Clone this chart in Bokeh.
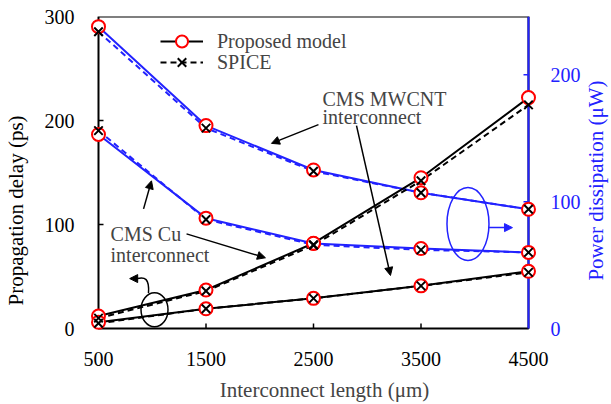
import math
from bokeh.plotting import figure
from bokeh.models import (Range1d, LinearAxis, FixedTicker, Legend, LegendItem,
                          Arrow, NormalHead, Label, BoxAnnotation)
from bokeh.embed import file_html
from bokeh.resources import INLINE

# ---------------- data ----------------
length = [500, 1500, 2500, 3500, 4500]
x_ticks = [500, 1500, 2500, 3500, 4500]
delay_ticks = [0, 100, 200, 300]
power_ticks = [0, 100, 200]

delay_a_model = [12, 37, 82, 145, 222]
delay_a_spice = [10, 36, 80, 142, 215]
delay_b_model = [6, 19, 29, 41, 55]
delay_b_spice = [5, 19, 29, 41, 54]

power_a_model = [238, 160, 125, 107, 94]
power_a_spice = [234, 158, 124, 107, 94]
power_b_model = [153, 87, 67, 63, 60]
power_b_spice = [156, 86, 66, 62, 60]

# ---------------- styles ----------------
BLUE = "#2222ff"
FONT = "Liberation Serif"
TICK_FS = "20px"
LABEL_FS = "21px"
X_PER_PX = 9.3023        # x units per screen pixel
Y_PER_PX = 0.9615        # delay units per screen pixel
P_PER_PX = 0.78846       # power units per screen pixel
X_LEFT_PAD = 8 * X_PER_PX     # room so edge markers are not clipped
X_RIGHT_PAD = 83 * X_PER_PX   # frame runs to the right edge (holds the right title)
BOTTOM_PAD_PX = 76            # frame runs to the bottom edge (holds the x title)
TICK_LEN = 5

p = figure(width=611, height=404, output_backend="svg", toolbar_location=None,
           x_range=Range1d(500 - X_LEFT_PAD, 4500 + X_RIGHT_PAD),
           y_range=Range1d(-BOTTOM_PAD_PX * Y_PER_PX, 300),
           x_axis_location=None, y_axis_location=None,
           min_border_left=90, min_border_right=0, min_border_top=16,
           min_border_bottom=0)
p.extra_y_ranges = {"power": Range1d(-BOTTOM_PAD_PX * P_PER_PX, 246)}
p.outline_line_color = None
p.xgrid.visible = False
p.ygrid.visible = False
p.background_fill_color = "white"
p.border_fill_color = "white"


def style_axis(ax, color="black"):
    ax.axis_line_color = None
    ax.major_tick_line_color = None
    ax.minor_tick_line_color = None
    ax.major_label_text_font = FONT
    ax.major_label_text_font_size = TICK_FS
    ax.major_label_text_color = color
    ax.axis_label_text_font = FONT
    ax.axis_label_text_font_size = LABEL_FS
    ax.axis_label_text_font_style = "normal"
    ax.axis_label_text_color = color


ax_b = LinearAxis(ticker=FixedTicker(ticks=x_ticks))
style_axis(ax_b)
ax_b.major_label_standoff = -59
p.add_layout(ax_b, "below")

ax_l = LinearAxis(ticker=FixedTicker(ticks=delay_ticks),
                  axis_label="Propagation delay (ps)")
style_axis(ax_l)
ax_l.major_label_standoff = 10
ax_l.axis_label_standoff = 14
p.add_layout(ax_l, "left")

ax_r = LinearAxis(ticker=FixedTicker(ticks=power_ticks), y_range_name="power")
style_axis(ax_r, BLUE)
ax_r.major_label_standoff = -67
p.add_layout(ax_r, "right")

# axis titles placed as labels inside the (extended) frame
p.add_layout(Label(x=500 + 226 * X_PER_PX, y=-61 * Y_PER_PX,
                   text="Interconnect length (μm)", text_font=FONT,
                   text_font_size=LABEL_FS, text_align="center",
                   text_baseline="alphabetic"))
p.add_layout(Label(x=4500 + 67 * X_PER_PX, y=148 * Y_PER_PX,
                   text="Power dissipation (μW)", text_font=FONT,
                   text_font_size=LABEL_FS, text_color=BLUE, angle=math.pi / 2,
                   text_align="center", text_baseline="middle"))

# plot box (axes lines) limited to 500..4500, 0..300
p.add_layout(BoxAnnotation(left=500, right=4500, bottom=0, top=300,
                           fill_alpha=0, line_color="black", line_alpha=1,
                           line_width=2, level="underlay"))
p.add_layout(BoxAnnotation(left=4500, right=4500, bottom=0, top=300,
                           fill_alpha=0, line_color=BLUE, line_alpha=1,
                           line_width=2, level="underlay"))

# inward ticks
bt = x_ticks[1:-1]
p.segment(x0=bt, y0=[0] * len(bt), x1=bt, y1=[TICK_LEN * Y_PER_PX] * len(bt),
          line_color="black", line_width=1.5)
lt = delay_ticks[1:-1]
p.segment(x0=[500] * len(lt), y0=lt, x1=[500 + TICK_LEN * X_PER_PX] * len(lt),
          y1=lt, line_color="black", line_width=1.5)
rt = power_ticks[1:]
p.segment(x0=[4500 - TICK_LEN * X_PER_PX] * len(rt), y0=rt,
          x1=[4500] * len(rt), y1=rt, y_range_name="power",
          line_color=BLUE, line_width=1.5)

# ---------------- series ----------------
for ys in (power_a_spice, power_b_spice):
    p.line(length, ys, y_range_name="power", line_color=BLUE, line_width=2,
           line_dash="6 4")
for ys in (power_a_model, power_b_model):
    p.line(length, ys, y_range_name="power", line_color=BLUE, line_width=2)

r_dash = None
for ys in (delay_a_spice, delay_b_spice):
    r = p.line(length, ys, line_color="black", line_width=2, line_dash="6 4")
    r_dash = r_dash or r
r_line = None
for ys in (delay_a_model, delay_b_model):
    r = p.line(length, ys, line_color="black", line_width=2)
    r_line = r_line or r

r_circ = None
for ys, rng in ((power_a_model, "power"), (power_b_model, "power"),
                (delay_a_model, "default"), (delay_b_model, "default")):
    r = p.scatter(length, ys, y_range_name=rng, marker="circle", size=13,
                  line_color="red", line_width=2, fill_color="white")
    if rng == "default" and r_circ is None:
        r_circ = r
r_x = None
for ys, rng in ((power_a_spice, "power"), (power_b_spice, "power"),
                (delay_a_spice, "default"), (delay_b_spice, "default")):
    r = p.scatter(length, ys, y_range_name=rng, marker="x", size=12,
                  line_color="black", line_width=2)
    if rng == "default" and r_x is None:
        r_x = r

# ---------------- legend (two one-item legends for tight spacing) ----------------
leg_kw = dict(glyph_width=43, glyph_height=30, label_height=30, padding=0,
              margin=0, label_standoff=14, label_text_font=FONT,
              label_text_font_size="20px", background_fill_alpha=0,
              border_line_color=None)
p.add_layout(Legend(items=[LegendItem(label="Proposed model",
                                      renderers=[r_line, r_circ])],
                    location=(70, 272 + BOTTOM_PAD_PX), **leg_kw))
p.add_layout(Legend(items=[LegendItem(label="SPICE", renderers=[r_dash, r_x])],
                    location=(70, 251 + BOTTOM_PAD_PX), **leg_kw))

# ---------------- annotations ----------------
labels = [("CMS MWCNT", 2584, 221), ("interconnect", 2584, 203),
          ("CMS Cu", 612, 91), ("interconnect", 612, 71)]
for txt, lx, ly in labels:
    p.add_layout(Label(x=lx, y=ly, text=txt, text_font=FONT,
                       text_font_size="20px", text_baseline="alphabetic"))

arrows = [((919, 115), (993, 142), "black"),
          ((1319, 91), (2053, 68), "black"),
          ((2546, 196), (2109, 178), "black"),
          ((2900, 195), (3216, 51), "black"),
          ((4128, 97), (4351, 97), BLUE),
          ((860, 48), (790, 48), "black")]
for (x0, y0), (x1, y1), col in arrows:
    p.add_layout(Arrow(end=NormalHead(size=8, fill_color=col, line_color=col),
                       x_start=x0, y_start=y0, x_end=x1, y_end=y1,
                       line_color=col, line_width=1.5))

p.bezier(x0=[965], y0=[34], x1=[860], y1=[48], cx0=[975], cy0=[48],
         cx1=[930], cy1=[50], line_color="black", line_width=1.5)

p.ellipse(x=[1021], y=[18], width=27, height=34, width_units="screen",
          height_units="screen", fill_color=None, line_color="black",
          line_width=1.5)
p.ellipse(x=[3937], y=[100.5], width=42, height=73, width_units="screen",
          height_units="screen", fill_color=None, line_color=BLUE,
          line_width=1.5)

open("out.html", "w").write(file_html(p, INLINE))
